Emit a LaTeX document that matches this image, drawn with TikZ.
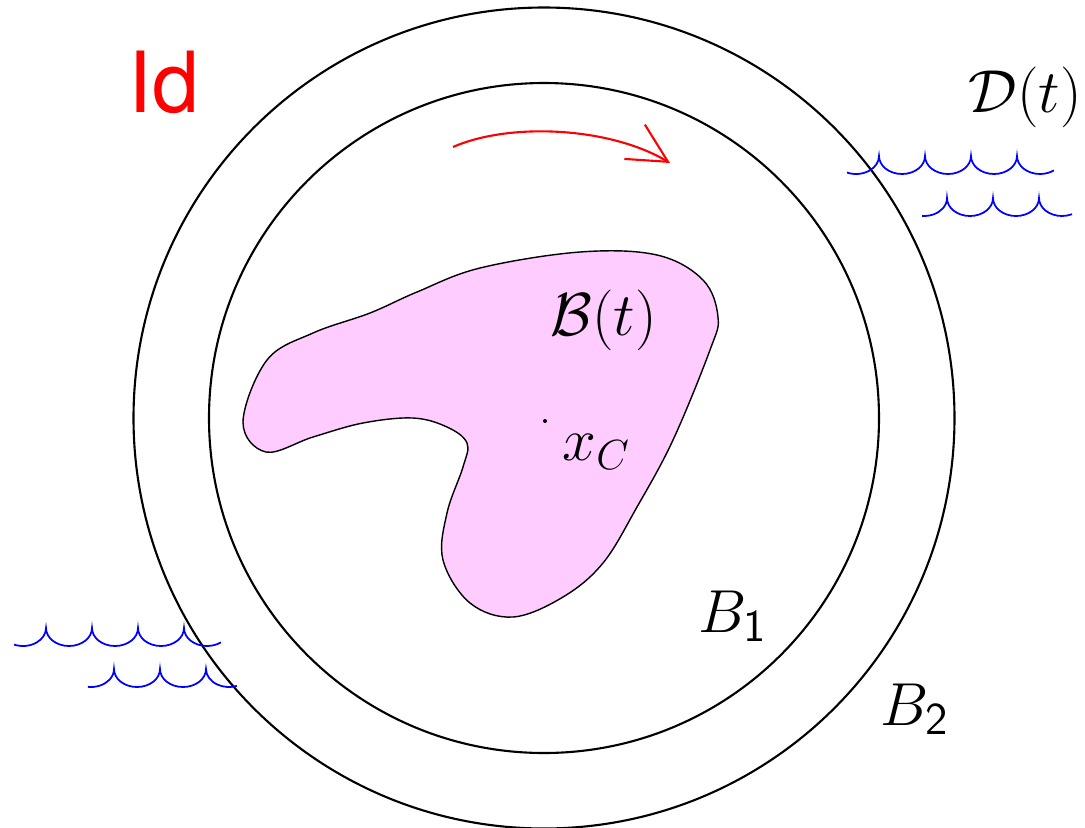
\documentclass[tikz,border=0pt]{standalone}
\usepackage{fontspec}
\usepackage{amsmath}
\usetikzlibrary{arrows.meta, positioning, calc}
\newfontfamily\labelsans{TeX Gyre Heros}
\definecolor{blobpink}{HTML}{FFCCFF}
\definecolor{wavblue}{HTML}{0000FF}
\definecolor{rotred}{HTML}{FF0000}

% one row of scallops: first cusp (#1,#2), #3 full arcs, start/end angle of the partial arcs
\newcommand{\waverow}[5]{%
  \draw[wave] ([shift={(#4:0.23 and 0.18)}] #1-0.23,#2)
    arc[start angle=#4, end angle=360, x radius=0.23, y radius=0.18]
    \foreach \k in {1,...,#3}{ arc[start angle=180, end angle=360, x radius=0.23, y radius=0.18] }
    arc[start angle=180, end angle=#5, x radius=0.23, y radius=0.18];}

\begin{document}
\begin{tikzpicture}[font=\fontsize{18.5}{22}\selectfont,
        ring/.style={draw=black, line width=0.6pt},
        body/.style={draw=black, line width=0.4pt, fill=blobpink},
        wave/.style={draw=wavblue, line width=0.5pt},
        rot/.style={draw=rotred, line width=0.6pt, -{Straight Barb[length=3.9mm, width=4mm]}},
        lbl/.style={inner sep=0pt, anchor=base west}]
  \useasboundingbox (0,0) rectangle (10.85,8.27);
  \coordinate (o) at (5.44,4.09);
  \draw[ring] (o) circle[radius=4.105];
  \draw[ring] (o) circle[radius=3.35];
  \draw[body] plot[smooth cycle, tension=0.6] coordinates {
      (2.43,4.05) (2.67,4.67) (3.13,4.94) (3.70,5.14) (4.17,5.35) (4.80,5.59)
      (5.80,5.75) (6.57,5.72) (7.03,5.47) (7.18,5.10) (7.10,4.77) (6.73,3.87)
      (6.37,3.20) (6.03,2.64) (5.63,2.30) (5.13,2.10) (4.70,2.24) (4.43,2.67)
      (4.47,3.14) (4.63,3.60) (4.67,3.84) (4.47,4.00) (4.13,4.09) (3.63,4.04)
      (3.13,3.90) (2.66,3.75)};
  \fill (5.45,4.06) circle[radius=0.02];
  \node[lbl] (bt) at (5.50,4.92) {$\mathcal{B}(t)$};
  \node[lbl] (xc) at (5.62,3.67) {$x_C$};
  \node[lbl] (b1) at (6.98,1.95) {$B_{\mathsf{1}}$};
  \node[lbl] (b2) at (8.80,1.02) {$B_{\mathsf{2}}$};
  \node[lbl] (dt) at (9.68,7.15) {$\mathcal{D}(t)$};
  \node[lbl, text=rotred, font=\labelsans\fontsize{24}{28}\selectfont] (id) at (1.28,7.15) {Id};
  \coordinate (r0) at (4.53,6.80);
  \coordinate (r1) at (6.70,6.64);
  \draw[rot] (r0) .. controls (5.1,7.05) and (6.1,7.0) .. (r1);
  \waverow{8.79}{6.71}{3}{247}{307}
  \waverow{9.47}{6.29}{2}{265}{296}
  \waverow{0.46}{1.99}{3}{247}{307}
  \waverow{1.14}{1.58}{2}{262}{290}
\end{tikzpicture}
\end{document}
